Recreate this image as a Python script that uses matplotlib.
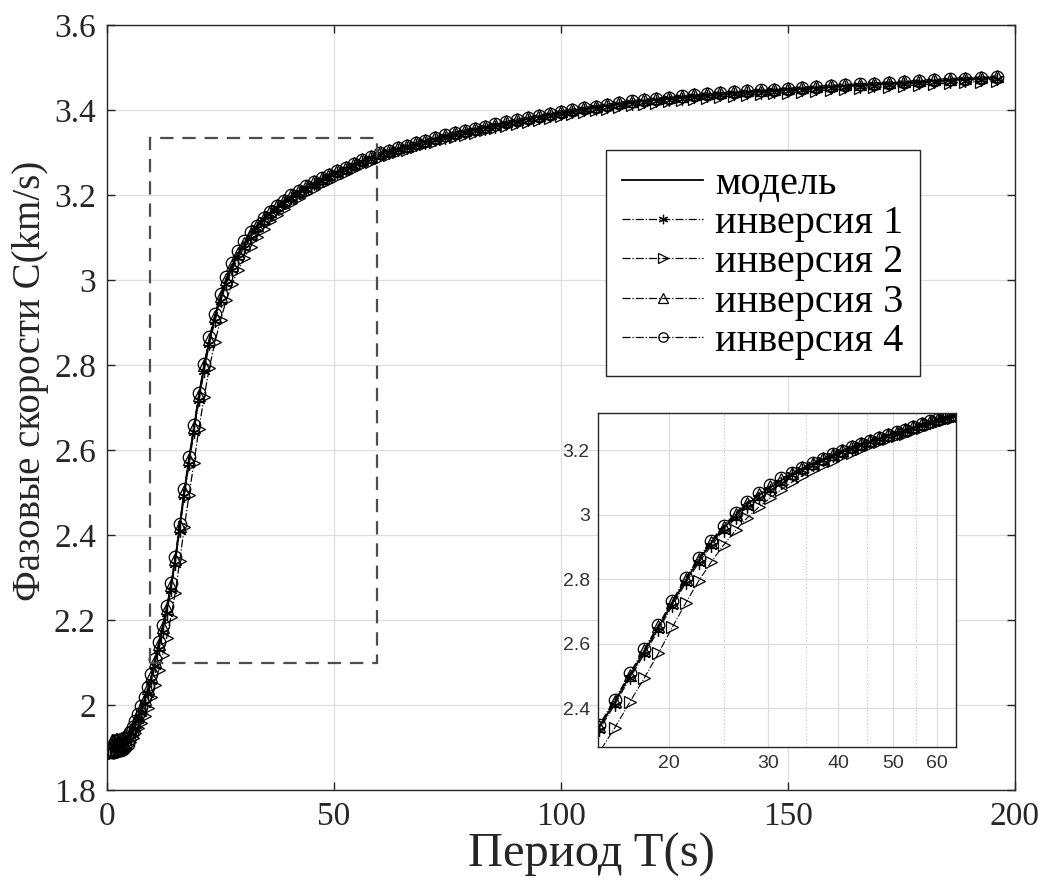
"""
Phase velocity dispersion curves: model vs four inversions, with zoomed inset.
"""

import matplotlib
matplotlib.use('Agg')
from matplotlib import pyplot as plt
from matplotlib.patches import Rectangle
from matplotlib.ticker import FixedLocator, FuncFormatter, NullFormatter

# sampled periods, s
periods = [
    1.00, 1.27, 1.56, 1.89, 2.25, 2.64, 3.06, 3.52, 4.00, 4.52,
    5.06, 5.64, 6.25, 6.89, 7.56, 8.27, 9.00, 9.77, 10.56, 11.39,
    12.25, 13.14, 14.06, 15.02, 16.00, 17.02, 18.06, 19.14, 20.25, 21.39,
    22.56, 23.77, 25.00, 26.27, 27.56, 28.89, 30.25, 31.64, 33.06, 34.52,
    36.00, 37.52, 39.06, 40.64, 42.25, 43.89, 45.56, 47.27, 49.00, 50.77,
    52.56, 54.39, 56.25, 58.14, 60.06, 62.02, 64.00, 66.02, 68.06, 70.14,
    72.25, 74.39, 76.56, 78.77, 81.00, 83.27, 85.56, 87.89, 90.25, 92.64,
    95.06, 97.52, 100.00, 102.52, 105.06, 107.64, 110.25, 112.89, 115.56, 118.27,
    121.00, 123.77, 126.56, 129.39, 132.25, 135.14, 138.06, 141.02, 144.00, 147.02,
    150.06, 153.14, 156.25, 159.39, 162.56, 165.77, 169.00, 172.27, 175.56, 178.89,
    182.25, 185.64, 189.06, 192.52, 196.00,
]

model = [
    1.900, 1.900, 1.900, 1.901, 1.902, 1.903, 1.904, 1.907, 1.912, 1.918,
    1.928, 1.940, 1.955, 1.972, 1.990, 2.010, 2.035, 2.065, 2.100, 2.140,
    2.180, 2.225, 2.278, 2.340, 2.418, 2.500, 2.575, 2.650, 2.725, 2.795,
    2.858, 2.912, 2.958, 2.998, 3.032, 3.060, 3.084, 3.106, 3.126, 3.143,
    3.158, 3.172, 3.185, 3.197, 3.208, 3.218, 3.228, 3.237, 3.246, 3.254,
    3.262, 3.271, 3.280, 3.288, 3.296, 3.302, 3.308, 3.314, 3.320, 3.326,
    3.332, 3.338, 3.344, 3.349, 3.354, 3.359, 3.364, 3.369, 3.374, 3.379,
    3.384, 3.389, 3.394, 3.398, 3.402, 3.406, 3.410, 3.414, 3.418, 3.421,
    3.424, 3.427, 3.430, 3.433, 3.436, 3.438, 3.440, 3.442, 3.444, 3.446,
    3.448, 3.450, 3.452, 3.454, 3.456, 3.458, 3.460, 3.462, 3.464, 3.466,
    3.468, 3.470, 3.472, 3.474, 3.476,
]

inversion_1 = [
    1.906, 1.906, 1.906, 1.907, 1.908, 1.909, 1.910, 1.913, 1.918, 1.924,
    1.920, 1.932, 1.947, 1.964, 1.982, 2.002, 2.027, 2.057, 2.092, 2.132,
    2.172, 2.217, 2.270, 2.332, 2.410, 2.492, 2.567, 2.642, 2.717, 2.787,
    2.850, 2.904, 2.950, 2.990, 3.024, 3.052, 3.076, 3.098, 3.123, 3.140,
    3.155, 3.169, 3.182, 3.194, 3.205, 3.215, 3.225, 3.234, 3.243, 3.251,
    3.259, 3.268, 3.277, 3.285, 3.293, 3.299, 3.305, 3.311, 3.317, 3.323,
    3.329, 3.335, 3.341, 3.346, 3.351, 3.356, 3.361, 3.366, 3.371, 3.376,
    3.381, 3.386, 3.391, 3.395, 3.399, 3.403, 3.407, 3.411, 3.415, 3.418,
    3.421, 3.424, 3.427, 3.430, 3.433, 3.435, 3.437, 3.439, 3.441, 3.443,
    3.445, 3.447, 3.449, 3.451, 3.453, 3.455, 3.457, 3.459, 3.461, 3.463,
    3.465, 3.467, 3.469, 3.471, 3.473,
]

inversion_2 = [
    1.888, 1.888, 1.888, 1.889, 1.890, 1.891, 1.892, 1.895, 1.900, 1.906,
    1.913, 1.922, 1.933, 1.945, 1.958, 1.973, 1.993, 2.018, 2.048, 2.083,
    2.118, 2.158, 2.206, 2.263, 2.338, 2.418, 2.493, 2.570, 2.650, 2.725,
    2.794, 2.854, 2.906, 2.952, 2.991, 3.024, 3.052, 3.078, 3.101, 3.121,
    3.138, 3.154, 3.168, 3.181, 3.193, 3.204, 3.215, 3.225, 3.234, 3.243,
    3.251, 3.261, 3.270, 3.278, 3.287, 3.293, 3.300, 3.307, 3.313, 3.319,
    3.325, 3.331, 3.337, 3.342, 3.347, 3.352, 3.357, 3.362, 3.367, 3.372,
    3.377, 3.382, 3.387, 3.391, 3.395, 3.399, 3.403, 3.407, 3.411, 3.414,
    3.417, 3.420, 3.423, 3.426, 3.429, 3.431, 3.433, 3.435, 3.437, 3.439,
    3.441, 3.443, 3.445, 3.447, 3.449, 3.451, 3.453, 3.455, 3.457, 3.459,
    3.461, 3.463, 3.465, 3.467, 3.469,
]

inversion_3 = [
    1.918, 1.918, 1.918, 1.919, 1.920, 1.921, 1.922, 1.925, 1.930, 1.936,
    1.932, 1.944, 1.959, 1.976, 1.994, 2.014, 2.039, 2.069, 2.104, 2.144,
    2.184, 2.229, 2.282, 2.344, 2.422, 2.504, 2.579, 2.654, 2.729, 2.799,
    2.862, 2.916, 2.962, 3.002, 3.036, 3.064, 3.088, 3.110, 3.130, 3.147,
    3.162, 3.176, 3.189, 3.201, 3.212, 3.222, 3.232, 3.241, 3.250, 3.258,
    3.266, 3.275, 3.284, 3.292, 3.300, 3.306, 3.312, 3.318, 3.324, 3.330,
    3.336, 3.342, 3.348, 3.353, 3.358, 3.363, 3.368, 3.373, 3.378, 3.383,
    3.388, 3.393, 3.398, 3.402, 3.406, 3.410, 3.414, 3.418, 3.422, 3.425,
    3.428, 3.431, 3.434, 3.437, 3.440, 3.442, 3.444, 3.446, 3.448, 3.450,
    3.452, 3.454, 3.456, 3.458, 3.460, 3.462, 3.464, 3.466, 3.468, 3.470,
    3.472, 3.474, 3.476, 3.478, 3.480,
]

inversion_4 = [
    1.890, 1.890, 1.890, 1.891, 1.892, 1.893, 1.894, 1.897, 1.902, 1.908,
    1.936, 1.948, 1.963, 1.980, 1.998, 2.018, 2.043, 2.073, 2.108, 2.148,
    2.188, 2.233, 2.286, 2.348, 2.426, 2.508, 2.583, 2.658, 2.733, 2.803,
    2.866, 2.920, 2.966, 3.006, 3.040, 3.068, 3.092, 3.114, 3.128, 3.145,
    3.160, 3.174, 3.187, 3.199, 3.210, 3.220, 3.230, 3.239, 3.248, 3.256,
    3.264, 3.273, 3.282, 3.290, 3.298, 3.304, 3.310, 3.316, 3.322, 3.328,
    3.334, 3.340, 3.346, 3.351, 3.356, 3.361, 3.366, 3.371, 3.376, 3.381,
    3.386, 3.391, 3.396, 3.400, 3.404, 3.408, 3.412, 3.416, 3.420, 3.423,
    3.426, 3.429, 3.432, 3.435, 3.438, 3.440, 3.442, 3.444, 3.446, 3.448,
    3.450, 3.452, 3.454, 3.456, 3.458, 3.460, 3.462, 3.464, 3.466, 3.468,
    3.470, 3.472, 3.474, 3.476, 3.478,
]

labels = ['модель', 'инверсия 1', 'инверсия 2', 'инверсия 3', 'инверсия 4']
x_ticks = [0, 50, 100, 150, 200]
y_ticks = [1.8, 2.0, 2.2, 2.4, 2.6, 2.8, 3.0, 3.2, 3.4, 3.6]
inset_x_ticks = [20, 30, 40, 50, 60]
inset_x_minor = [25, 35, 45, 55]
inset_y_ticks = [2.4, 2.6, 2.8, 3.0, 3.2]

serif = ['Liberation Serif', 'DejaVu Serif']
sans = ['Liberation Sans', 'DejaVu Sans']
frame_color = '0.15'
asterisk = (6, 2, 0)


def g_format(value, pos):
    """Format ticks the way MATLAB does (no trailing zeros)."""
    return '{0:g}'.format(round(value, 6))


def draw_curves(ax, marker_size, line_width):
    """Draw model and the four inversions on given axes."""
    ax.plot(periods, model, '-', color='black', linewidth=line_width + 0.4, label=labels[0])
    series = [inversion_1, inversion_2, inversion_3, inversion_4]
    markers = [asterisk, '>', '^', 'o']
    for values, marker, label in zip(series, markers, labels[1:]):
        ax.plot(
            periods, values, '-.', color='black', linewidth=line_width,
            marker=marker, markersize=marker_size, markerfacecolor='none',
            markeredgecolor='black', markeredgewidth=0.9, label=label,
        )


def style_frame(ax):
    for spine in ax.spines.values():
        spine.set_color(frame_color)
        spine.set_linewidth(1.0)


fig = plt.figure(figsize=(10.42, 8.83), dpi=100)
ax = fig.add_axes([0.1027, 0.1053, 0.8713, 0.8664])
draw_curves(ax, 9, 0.9)

ax.set_xlim(0, 200)
ax.set_ylim(1.8, 3.6)
ax.set_xticks(x_ticks)
ax.set_yticks(y_ticks)
ax.yaxis.set_major_formatter(FuncFormatter(g_format))
ax.grid(True, color='0.87', linestyle='-', linewidth=0.9)
ax.set_axisbelow(True)
ax.tick_params(direction='in', length=6, width=1.0, colors=frame_color,
               labelcolor='#262626', top=True, right=True, labelsize=24, pad=8)
for lab in ax.get_xticklabels() + ax.get_yticklabels():
    lab.set_family(serif)
style_frame(ax)

ax.set_xlabel('Период T(s)', fontsize=35, family=serif, color='#262626')
ax.xaxis.set_label_coords(0.534, -0.056)
ax.set_ylabel('Фазовые скорости C(km/s)', fontsize=28, family=serif, color='#262626')
ax.yaxis.set_label_coords(-0.064, 0.535)

# zoom region marker
ax.add_patch(Rectangle((9.5, 2.1), 50.0, 1.234, fill=False, edgecolor='0.3',
                       linestyle=(0, (6, 4)), linewidth=1.6, zorder=5))

legend = ax.legend(
    loc='upper right', bbox_to_anchor=(0.895, 0.837),
    prop={'family': serif, 'size': 29}, frameon=True, fancybox=False,
    framealpha=1, edgecolor=frame_color, handlelength=2.0, handletextpad=0.3,
    labelspacing=0.05, borderpad=0.4, borderaxespad=0, markerscale=0.75,
)
legend.get_frame().set_linewidth(1.0)

# inset with logarithmic period axis
inset = fig.add_axes([0.574, 0.154, 0.3436, 0.378])
draw_curves(inset, 9, 0.8)
inset.set_xscale('log')
inset.set_xlim(14.95, 64.8)
inset.set_ylim(2.279, 3.315)
inset.xaxis.set_major_locator(FixedLocator(inset_x_ticks))
inset.xaxis.set_minor_locator(FixedLocator(inset_x_minor))
inset.xaxis.set_major_formatter(FuncFormatter(g_format))
inset.xaxis.set_minor_formatter(NullFormatter())
inset.set_yticks(inset_y_ticks)
inset.yaxis.set_major_formatter(FuncFormatter(g_format))
inset.grid(True, which='major', color='0.87', linestyle='-', linewidth=0.9)
inset.grid(True, which='minor', axis='x', color='0.8', linestyle=':', linewidth=0.9)
inset.set_axisbelow(True)
inset.tick_params(which='both', direction='in', length=0, colors=frame_color,
                  labelcolor='#333333', labelsize=14, pad=6)
for lab in inset.get_xticklabels() + inset.get_yticklabels():
    lab.set_family(sans)
style_frame(inset)

plt.savefig('out.png', dpi=100)
